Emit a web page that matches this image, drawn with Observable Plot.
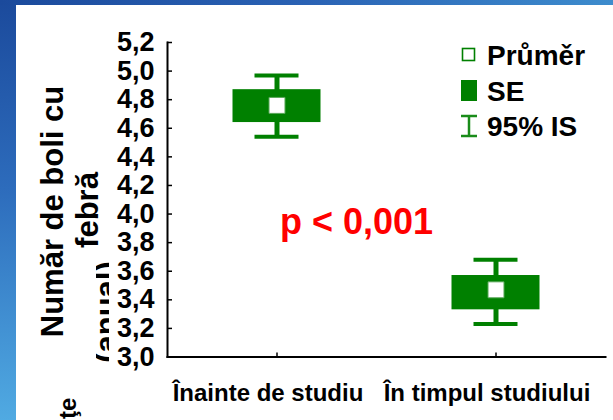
<!DOCTYPE html>
<html><head><meta charset="utf-8">
<script src="https://cdn.jsdelivr.net/npm/d3@7"></script>
<script src="https://cdn.jsdelivr.net/npm/@observablehq/plot@0.6"></script>
<style>
html,body{margin:0;padding:0;}
body{width:613px;height:420px;position:relative;overflow:hidden;background:#fff;font-family:"Liberation Sans",Arial,sans-serif;}
#leftbar{position:absolute;left:0;top:0;width:16px;height:420px;background:linear-gradient(to bottom,#1b4a9c,#2d6cbc 45%,#50aae2);}
#topbar{position:absolute;left:0;top:0;width:613px;height:5px;background:linear-gradient(to right,#1b4a9c,#2a62b4 50%,#3d8ccd);}
#chart{position:absolute;left:0;top:0;}
#overlay{position:absolute;left:0;top:0;}
</style></head><body>
<div id="leftbar"></div><div id="topbar"></div>
<div id="chart"></div>
<svg id="overlay" width="613" height="420"></svg>
<script>
// ---- data ----
const groups = ["Înainte de studiu", "În timpul studiului"];
const means  = [4.76, 3.47];
const seLow  = [4.64, 3.33];
const seHigh = [4.87, 3.57];
const ciLow  = [4.54, 3.23];
const ciHigh = [4.97, 3.68];
const yTicks = [3.0, 3.2, 3.4, 3.6, 3.8, 4.0, 4.2, 4.4, 4.6, 4.8, 5.0, 5.2];
const yDomain = [3.0, 5.2];
const yLabelLines = ["Număr de boli cu", "febră"];
const yLabelHidden = "(anual)";
const cornerFragment = "ţe";
const legendLabels = ["Průměr", "SE", "95% IS"];
const pLabel = "p < 0,001";

const data = groups.map((g, i) => ({group: g, mean: means[i], seLow: seLow[i], seHigh: seHigh[i], ciLow: ciLow[i], ciHigh: ciHigh[i]}));

const W = 613, H = 420, mL = 167, mR = 8, mT = 42, mB = 63.5;
const plotW = W - mL - mR, plotH = H - mT - mB;
const band = plotW / groups.length;
const boxW = 88, capW = 44;
const green = "#008000";
const font = "'Liberation Sans', Arial, sans-serif";
const fmt = d => d.toFixed(1).replace(".", ",");

const chart = Plot.plot({
  width: W, height: H,
  marginLeft: mL, marginRight: mR, marginTop: mT, marginBottom: mB,
  style: {background: "transparent", fontFamily: font, overflow: "visible", color: "black"},
  x: {domain: groups, padding: 0},
  y: {domain: yDomain},
  marks: [
    Plot.ruleX(data, {x: "group", y1: "ciLow", y2: "ciHigh", stroke: green, strokeWidth: 5}),
    Plot.tickY(data, {x: "group", y: "ciHigh", stroke: green, strokeWidth: 4, insetLeft: (band - capW) / 2, insetRight: (band - capW) / 2}),
    Plot.tickY(data, {x: "group", y: "ciLow", stroke: green, strokeWidth: 4, insetLeft: (band - capW) / 2, insetRight: (band - capW) / 2}),
    Plot.barY(data, {x: "group", y1: "seLow", y2: "seHigh", fill: green, insetLeft: (band - boxW) / 2, insetRight: (band - boxW) / 2}),
    Plot.dot(data, {x: "group", y: "mean", symbol: "square", r: 9, fill: "white", stroke: "#5aa85a", strokeWidth: 1}),
    Plot.frame({anchor: "left", stroke: "black", strokeWidth: 2}),
    Plot.frame({anchor: "bottom", stroke: "black", strokeWidth: 2}),
    Plot.tickY(yTicks, {y: d => d, insetRight: plotW - 5, stroke: "black", strokeWidth: 1.5}),
    Plot.tickX(groups, {x: d => d, insetTop: plotH - 4, stroke: "black", strokeWidth: 1.5}),
    Plot.axisY(yTicks, {tickSize: 0, tickPadding: 13, tickFormat: fmt, fontSize: 27, fontWeight: "bold", fill: "black", label: null}),
    Plot.axisX(groups, {tickSize: 0, tickPadding: 26.5, fontSize: 24, fontWeight: "bold", fill: "black", dx: -9, label: null}),
    Plot.text([pLabel], {text: d => d, frameAnchor: "middle", dx: -30, dy: 23, fontSize: 36, fontWeight: "bold", fill: "#ff0000"})
  ]
});
document.getElementById("chart").appendChild(chart);

// ---- overlay: y label and legend ----
const ov = d3.select("#overlay").attr("font-family", font).attr("font-weight", "bold");
ov.append("text").attr("transform", "translate(63,211.5) rotate(-90)").attr("text-anchor", "middle")
  .attr("font-size", 31).text(yLabelLines[0]);
ov.append("text").attr("transform", "translate(98,210) rotate(-90)").attr("text-anchor", "middle")
  .attr("font-size", 31).text(yLabelLines[1]);
ov.append("clipPath").attr("id", "clip3").append("rect").attr("x", 96).attr("y", 250).attr("width", 13).attr("height", 125);
ov.append("g").attr("clip-path", "url(#clip3)")
  .append("text").attr("transform", "translate(117,312) rotate(-90)").attr("text-anchor", "middle")
  .attr("font-size", 31).text(yLabelHidden);
ov.append("text").attr("transform", "translate(76,419) rotate(-90)").attr("text-anchor", "start")
  .attr("font-size", 24).text(cornerFragment);

const lg = ov.append("g").attr("font-size", 28).attr("fill", "black");
lg.append("rect").attr("x", 462.5).attr("y", 48.5).attr("width", 12).attr("height", 12).attr("fill", "white").attr("stroke", green).attr("stroke-width", 1.6);
lg.append("text").attr("x", 487).attr("y", 65).text(legendLabels[0]);
lg.append("rect").attr("x", 461).attr("y", 80).attr("width", 16).attr("height", 21).attr("fill", green);
lg.append("text").attr("x", 487).attr("y", 101).text(legendLabels[1]);
const ig = lg.append("g").attr("stroke", "#1a8c1a").attr("stroke-width", 2.5);
ig.append("line").attr("x1", 461).attr("x2", 477).attr("y1", 116).attr("y2", 116);
ig.append("line").attr("x1", 461).attr("x2", 477).attr("y1", 136).attr("y2", 136);
ig.append("line").attr("x1", 469).attr("x2", 469).attr("y1", 116).attr("y2", 136);
lg.append("text").attr("x", 487).attr("y", 136).text(legendLabels[2]);
</script>
</body></html>
